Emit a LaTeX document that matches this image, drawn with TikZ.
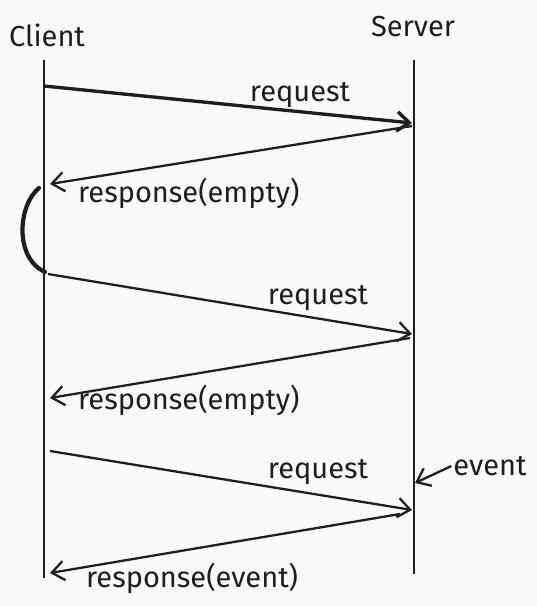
\documentclass[tikz,border=0pt]{standalone}
\usepackage{fontspec}
\setmainfont{Fira Sans}
\usetikzlibrary{arrows.meta}
\definecolor{canvas}{HTML}{F8F9FB}
\definecolor{ink}{HTML}{1E1E1E}

\begin{document}
\begin{tikzpicture}[
  x=0.02cm,
  y=-0.02cm,
  >={Straight Barb[length=7pt,width=11pt]},
  lifeline/.style={draw=ink, line width=1.05pt},
  msg/.style={->, draw=ink, line width=1.3pt},
  msglabel/.style={font=\fontsize{16.5}{19}\selectfont, text=ink, inner sep=1pt}
]
  \fill[canvas] (0,0) rectangle (537,606);
  \useasboundingbox (0,0) rectangle (537,606);

  % participants
  \node[msglabel] (client) at (47,35) {Client};
  \node[msglabel] (server) at (413,27) {Server};
  \coordinate (ctop) at (44,60);
  \coordinate (cbot) at (44,578);
  \coordinate (stop) at (414,60);
  \coordinate (sbot) at (414,574);
  \draw[lifeline] (ctop) -- (cbot);
  \draw[lifeline] (stop) -- (sbot);

  % first poll
  \coordinate (req1a) at (44,86);
  \coordinate (req1b) at (412,123);
  \coordinate (res1a) at (412,126);
  \coordinate (res1b) at (50,184);
  \draw[msg, line width=1.9pt] (req1a) -- (req1b);
  \draw[msg] (res1a) -- (res1b);
  \node[msglabel] (req1) at (300,95) {request};
  \node[msglabel, anchor=west] (res1) at (76,193) {response(empty)};

  % wait
  \coordinate (wait1) at (39,188);
  \coordinate (wait2) at (45,272);
  \draw[ink, line width=2.4pt, line cap=round] (wait1) .. controls (18,205) and (14,258) .. (wait2);

  % second poll
  \coordinate (req2a) at (48,274);
  \coordinate (req2b) at (412,334);
  \coordinate (res2a) at (410,338);
  \coordinate (res2b) at (50,398);
  \draw[msg] (req2a) -- (req2b);
  \draw[msg] (res2a) -- (res2b);
  \node[msglabel] (req2) at (318,298) {request};
  \node[msglabel, anchor=west] (res2) at (76,400) {response(empty)};

  % third poll
  \coordinate (req3a) at (50,451);
  \coordinate (req3b) at (412,510);
  \coordinate (res3a) at (400,514);
  \coordinate (res3b) at (50,573);
  \draw[msg] (req3a) -- (req3b);
  \draw[msg] (res3a) -- (res3b);
  \node[msglabel] (req3) at (318,472) {request};
  \node[msglabel, anchor=west] (res3) at (84,578) {response(event)};

  % event
  \node[msglabel] (event) at (490,466) {event};
  \coordinate (evhit) at (415,483);
  \draw[msg] (event.west) -- (evhit);
\end{tikzpicture}
\end{document}
